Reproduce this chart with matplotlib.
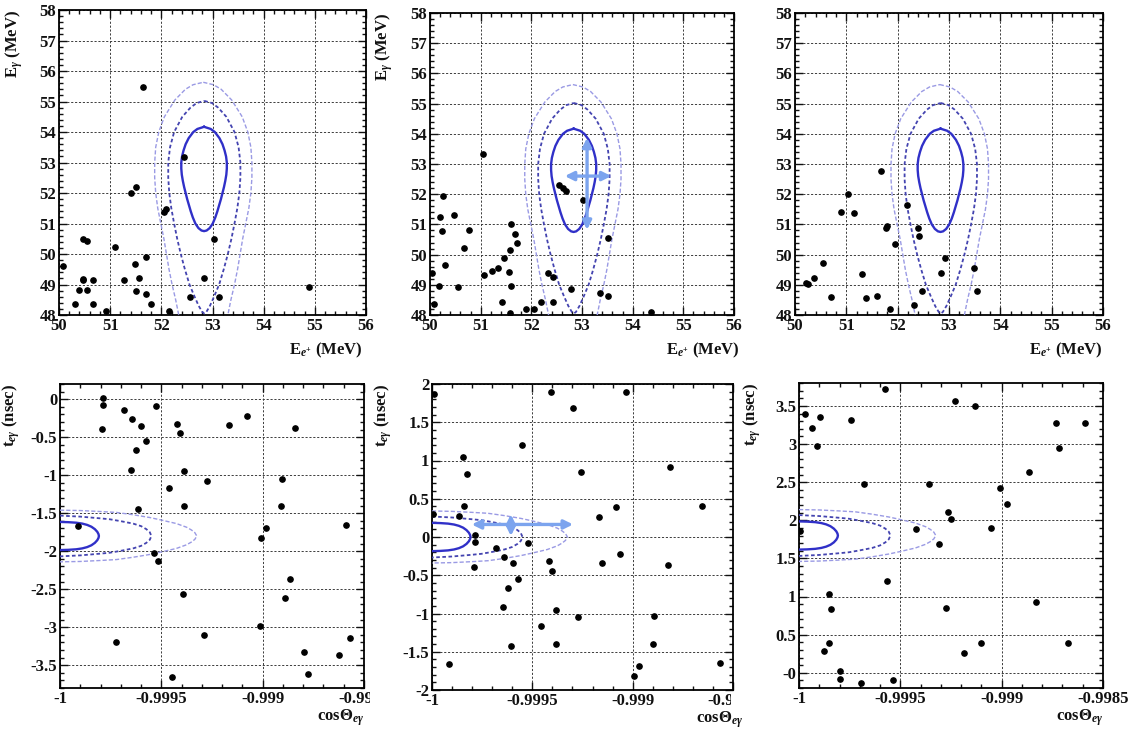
import matplotlib
matplotlib.use("Agg")
import matplotlib.pyplot as plt
from matplotlib.ticker import MultipleLocator
from matplotlib.transforms import Bbox, TransformedBbox, blended_transform_factory, offset_copy
import numpy as np

plt.rcParams.update({
    "font.family": ["Liberation Serif", "DejaVu Serif"],
    "font.weight": "bold",
    "mathtext.fontset": "custom",
    "mathtext.rm": "Liberation Serif:bold",
    "mathtext.it": "Liberation Serif:italic:bold",
    "mathtext.bf": "Liberation Serif:bold",
    "axes.unicode_minus": False,
})

# ---------------- event data: E_e vs E_gamma (MeV) ----------------
ee_left = [51.65, 52.45, 51.50, 51.40, 52.10, 52.06, 50.47, 50.55, 51.09, 53.02,
           50.08, 51.71, 51.48, 51.27, 51.57, 50.46, 50.47, 50.67, 52.83, 50.40,
           50.55, 51.51, 51.71, 50.31, 50.66, 51.80, 52.56, 53.13, 50.91, 52.15,
           54.88]
eg_left = [55.46, 53.17, 52.21, 52.01, 51.46, 51.37, 50.48, 50.44, 50.24, 50.49,
           49.61, 49.90, 49.66, 49.15, 49.22, 49.18, 49.14, 49.14, 49.20, 48.81,
           48.81, 48.78, 48.70, 48.36, 48.36, 48.35, 48.58, 48.58, 48.14, 48.13,
           48.93]

ee_mid = [51.05, 50.26, 50.20, 50.23, 50.47, 50.77, 50.68, 50.30, 50.03, 50.18,
          50.56, 50.07, 51.60, 51.68, 51.71, 51.58, 51.47, 51.35, 51.23, 51.07,
          51.56, 51.60, 51.43, 51.58, 51.89, 52.06, 52.20, 52.42, 52.33, 52.43,
          52.54, 52.63, 52.68, 53.02, 52.79, 53.52, 53.35, 53.52, 54.37]
eg_mid = [53.32, 51.93, 51.25, 50.79, 51.32, 50.80, 50.21, 49.64, 49.38, 48.97,
          48.94, 48.37, 51.02, 50.69, 50.38, 50.16, 49.88, 49.55, 49.47, 49.33,
          49.44, 48.97, 48.42, 48.05, 48.20, 48.20, 48.44, 48.44, 49.38, 49.25,
          52.32, 52.21, 52.12, 51.82, 48.85, 50.55, 48.72, 48.64, 48.09]

ee_right = [51.67, 51.04, 50.89, 51.15, 51.78, 51.80, 51.95, 52.19, 52.39, 52.41,
            50.54, 50.37, 50.21, 50.26, 50.71, 51.30, 51.39, 51.59, 51.85, 52.32,
            52.48, 52.85, 52.92, 53.48, 53.55]
eg_right = [52.78, 52.02, 51.41, 51.38, 50.88, 50.95, 50.34, 51.65, 50.87, 50.61,
            49.71, 49.22, 49.07, 49.03, 48.61, 49.35, 48.56, 48.64, 48.19, 48.33,
            48.80, 49.39, 49.88, 49.56, 48.81]

# ---------------- event data: cos(theta_egamma) vs t_egamma (nsec) ----------------
cos_left = [-0.999786, -0.999786, -0.999791, -0.999685, -0.999643, -0.999601, -0.999527,
            -0.999576, -0.999627, -0.999652, -0.999614, -0.999913, -0.999422, -0.999409,
            -0.999387, -0.999463, -0.999387, -0.999277, -0.999538, -0.999517, -0.999392,
            -0.999724, -0.999290, -0.999446, -0.999165, -0.999075, -0.998838, -0.998904,
            -0.998911, -0.998986, -0.999006, -0.998866, -0.998888, -0.999014, -0.998796,
            -0.998776, -0.998625, -0.998567, -0.998587]
t_left = [0.02, -0.07, -0.39, -0.14, -0.26, -0.35, -0.09,
          -0.55, -0.67, -0.93, -1.44, -1.67, -0.32, -0.45,
          -0.95, -1.17, -1.40, -1.07, -2.03, -2.13, -2.56,
          -3.19, -3.10, -3.66, -0.34, -0.22, -0.38, -1.05,
          -1.40, -1.70, -1.83, -2.36, -2.61, -2.98, -3.33,
          -3.62, -3.36, -3.14, -1.66]

cos_mid = [-0.999992, -0.999408, -0.999295, -0.999033, -0.999550, -0.999845, -0.999828,
           -0.999258, -0.998812, -0.999842, -0.999995, -0.999863, -0.999083, -0.999170,
           -0.998653, -0.999787, -0.999787, -0.999792, -0.999683, -0.999642, -0.999597,
           -0.999522, -0.999573, -0.999622, -0.999648, -0.999608, -0.999917, -0.999417,
           -0.999403, -0.999380, -0.999458, -0.999380, -0.999270, -0.999155, -0.999063,
           -0.998822, -0.998892, -0.998900, -0.998970, -0.998995, -0.998567]
t_mid = [1.87, 1.89, 1.69, 1.90, 1.20, 1.04, 0.83,
         0.85, 0.92, 0.40, 0.30, 0.28, 0.39, 0.26,
         0.40, 0.03, -0.07, -0.39, -0.14, -0.26, -0.34,
         -0.08, -0.55, -0.67, -0.92, -1.43, -1.66, -0.32,
         -0.44, -0.95, -1.16, -1.40, -1.05, -0.34, -0.22,
         -0.37, -1.03, -1.40, -1.69, -1.82, -1.65]

cos_right = [-0.999972, -0.999935, -0.999894, -0.999909, -0.999743, -0.999575, -0.999679,
             -0.999993, -0.999854, -0.999841, -0.999854, -0.999876, -0.999798, -0.999798,
             -0.999695, -0.999536, -0.999566, -0.999421, -0.999359, -0.999230, -0.999132,
             -0.999310, -0.999265, -0.999252, -0.999276, -0.999185, -0.999103, -0.999051,
             -0.999008, -0.998975, -0.998866, -0.998833, -0.998730, -0.998717, -0.998672,
             -0.998590]
t_right = [3.39, 3.21, 3.36, 2.97, 3.31, 3.72, 2.47,
           1.86, 1.03, 0.83, 0.39, 0.28, 0.02, -0.08,
           -0.14, -0.09, 1.20, 1.89, 2.48, 3.57, 3.50,
           1.69, 2.11, 2.02, 0.85, 0.26, 0.39, 1.90,
           2.42, 2.21, 2.63, 0.93, 3.27, 2.95, 0.39,
           3.28]

# ---------------- signal PDF contours in the energy plane ----------------
# each contour: E_gamma levels (top to bottom), half-width in E_e, and centre in E_e
c1_center = 52.835
c1_eg = [54.17, 54.10, 54.00, 53.80, 53.60, 53.40, 53.20, 53.00, 52.80, 52.60, 52.40,
         52.20, 52.00, 51.80, 51.60, 51.40, 51.20, 51.00, 50.85, 50.77, 50.75]
c1_hw = [0.0, 0.13, 0.21, 0.30, 0.36, 0.40, 0.43, 0.445, 0.445, 0.435, 0.415,
         0.39, 0.36, 0.33, 0.295, 0.26, 0.22, 0.17, 0.11, 0.05, 0.0]

c2_center = 52.84
c2_eg = [55.02, 54.95, 54.80, 54.50, 54.00, 53.50, 53.00, 52.50, 52.00, 51.50,
         51.00, 50.50, 50.00, 49.50, 49.00, 48.60, 48.30, 48.10, 48.05]
c2_hw = [0.0, 0.15, 0.27, 0.43, 0.59, 0.67, 0.705, 0.705, 0.685, 0.645,
         0.59, 0.53, 0.46, 0.38, 0.29, 0.19, 0.11, 0.04, 0.0]

c3_center = 52.82
c3_eg = [55.63, 55.55, 55.40, 55.05, 54.50, 54.00, 53.50, 53.00, 52.50, 52.00,
         51.50, 51.00, 50.50, 50.00, 49.50, 49.00, 48.50, 48.00, 47.50]
c3_hw = [0.0, 0.20, 0.35, 0.555, 0.76, 0.87, 0.93, 0.95, 0.95, 0.93,
         0.89, 0.83, 0.77, 0.72, 0.67, 0.61, 0.54, 0.48, 0.43]

# ---------------- signal PDF contours in the angle/time plane ----------------
# distance from cos = -1 and half-height in t around the timing peak
k1_dcos = [0.0, 0.00004, 0.00008, 0.00011, 0.000134, 0.000155, 0.000172, 0.000184,
           0.00019, 0.000192]
k1_hh = [0.185, 0.182, 0.175, 0.163, 0.146, 0.122, 0.09, 0.055, 0.025, 0.0]
k2_dcos = [0.0, 0.0001, 0.0002, 0.000246, 0.0003, 0.000361, 0.0004, 0.000426,
           0.000443, 0.000451]
k2_hh = [0.268, 0.255, 0.232, 0.22, 0.195, 0.163, 0.13, 0.09, 0.05, 0.0]
k3_dcos = [0.0, 0.0001, 0.0002, 0.000279, 0.00036, 0.000443, 0.0005, 0.000574,
           0.000625, 0.000648, 0.000665, 0.000675]
k3_hh = [0.34, 0.335, 0.322, 0.31, 0.28, 0.243, 0.21, 0.164, 0.115, 0.08, 0.045, 0.0]
t_peak = [-1.80, 0.0, 1.80]

# ---------------- resolution arrows ----------------
arrow_e_vert = [(53.10, 50.82), (53.10, 53.87)]
arrow_e_horz = [(52.66, 52.60), (53.58, 52.60)]
arrow_t_horz = [(-0.999802, 0.164), (-0.999297, 0.164)]
arrow_t_vert = [(-0.999607, 0.013), (-0.999607, 0.296)]

# ---------------- axes ranges / ticks ----------------
e_xlim = (50, 56)
e_ylim = (48, 58)
cos_ticks = [-1, -0.9995, -0.999, -0.9985]
cos_labels = ["-1", "-0.9995", "-0.999", "-0.9985"]
t_lims = [(-3.8, 0.2), (-2.0, 2.0), (-0.2, 3.8)]

W, H = 1137, 734
fig = plt.figure(figsize=(W / 100, H / 100), dpi=100)
fig.patch.set_facecolor("white")


def px_axes(x0, y0, x1, y1):
    return fig.add_axes([x0 / W, 1 - y1 / H, (x1 - x0) / W, (y1 - y0) / H])


C_IN = "#3030c8"
C_MID = "#4444b0"
C_OUT = "#9a9ae4"
C_ARR = "#7ca4ee"
TXT = "#111111"
TICK_FS = 12
GRID = dict(color="#3c3c3c", linestyle=(0, (2.2, 1.8)), linewidth=0.7)
all_axes = []


def style(ax, xminor, yminor):
    for s in ax.spines.values():
        s.set_linewidth(1.3)
    ax.xaxis.set_minor_locator(MultipleLocator(xminor))
    ax.yaxis.set_minor_locator(MultipleLocator(yminor))
    ax.tick_params(which="both", direction="in", top=True, right=True,
                   width=1.0, labelsize=TICK_FS, colors=TXT, pad=2.0)
    ax.tick_params(which="major", length=6)
    ax.tick_params(which="minor", length=3)
    ax.grid(True, which="major", **GRID)
    ax.set_axisbelow(True)
    all_axes.append(ax)


def loop_vertical(center, levels, hw):
    # closed outline from the right flank down and back up the left flank
    xs = [center + h for h in hw] + [center - h for h in hw[::-1]]
    ys = list(levels) + list(levels[::-1])
    return xs, ys


def loop_horizontal(peak, dcos, hh):
    xs = [-1 + d for d in dcos] + [-1 + d for d in dcos[::-1]]
    ys = [peak + h for h in hh] + [peak - h for h in hh[::-1]]
    return xs, ys


def arrow(ax, pts):
    (x0, y0), (x1, y1) = pts
    ax.annotate("", xy=(x1, y1), xytext=(x0, y0),
                arrowprops=dict(arrowstyle="<|-|>", color=C_ARR, lw=2.4,
                                mutation_scale=13, shrinkA=0, shrinkB=0),
                zorder=6)


LINESTYLES = [(C_OUT, 1.0, (0, (3.0, 1.5))), (C_MID, 1.3, (0, (2.0, 1.4))), (C_IN, 1.7, "-")]

# ---------------- top row: energies ----------------
top_boxes = [(59, 10, 366, 315), (430, 13, 734, 315), (795, 13, 1103, 315)]
top_data = [(ee_left, eg_left), (ee_mid, eg_mid), (ee_right, eg_right)]
top_ylab = [-0.11, -0.115, None]
top_xlab = [0.99, 1.02, 1.0]
e_contours = [(c3_center, c3_eg, c3_hw), (c2_center, c2_eg, c2_hw), (c1_center, c1_eg, c1_hw)]

for i, (box, (xs, ys)) in enumerate(zip(top_boxes, top_data)):
    ax = px_axes(*box)
    ax.set_xlim(*e_xlim)
    ax.set_ylim(*e_ylim)
    ax.set_xticks(np.arange(50, 57, 1))
    ax.set_yticks(np.arange(48, 59, 1))
    style(ax, 0.2, 0.2)
    for (cen, lev, hw), (col, lw, ls) in zip(e_contours, LINESTYLES):
        cx, cy = loop_vertical(cen, lev, hw)
        if lev[-1] < e_ylim[0]:
            # outer contour leaves the frame at the bottom: drop the closing segment
            ax.plot(cx, cy, color=col, lw=lw, ls=ls, zorder=3)
        else:
            ax.plot(cx + cx[:1], cy + cy[:1], color=col, lw=lw, ls=ls, zorder=3)
    ax.plot(xs, ys, "o", ms=3.8, color="black", zorder=5)
    if i == 1:
        arrow(ax, arrow_e_vert)
        arrow(ax, arrow_e_horz)
    ax.set_xlabel(r"E$_{e^{+}}$ (MeV)", fontsize=12, fontweight="bold",
                  ha="right", va="top", color=TXT)
    ax.xaxis.set_label_coords(top_xlab[i], -0.085)
    if top_ylab[i] is not None:
        ax.set_ylabel(r"E$_{\gamma}$ (MeV)", fontsize=12, fontweight="bold",
                      ha="right", va="bottom", color=TXT)
        ax.yaxis.set_label_coords(top_ylab[i], 1.0)

# ---------------- bottom row: angle vs timing ----------------
bot_boxes = [(60, 384, 364, 688), (432, 384, 733, 690), (799, 383, 1103, 688)]
bot_data = [(cos_left, t_left), (cos_mid, t_mid), (cos_right, t_right)]
bot_ylab = [-0.125, -0.125, -0.12]
bot_xlab = [1.0, 1.035, 1.0]
clip_right = [370, 731, None]
t_contours = [(k3_dcos, k3_hh), (k2_dcos, k2_hh), (k1_dcos, k1_hh)]

for i, (box, (xs, ys)) in enumerate(zip(bot_boxes, bot_data)):
    ax = px_axes(*box)
    ax.set_xlim(cos_ticks[0], cos_ticks[-1])
    ax.set_ylim(*t_lims[i])
    ax.set_xticks(cos_ticks)
    labels = list(cos_labels)
    if clip_right[i] is not None:
        labels[-1] = ""
    ax.set_xticklabels(labels)
    lo, hi = t_lims[i]
    ax.set_yticks(np.arange(np.ceil(lo * 2) / 2, hi + 1e-9, 0.5))
    ax.yaxis.set_major_formatter(plt.FuncFormatter(lambda v, p: f"{v:g}"))
    style(ax, 0.0001, 0.1)
    for (dc, hh), (col, lw, ls) in zip(t_contours, LINESTYLES):
        cx, cy = loop_horizontal(t_peak[i], dc, hh)
        ax.plot(cx, cy, color=col, lw=lw, ls=ls, zorder=3)
    ax.plot(xs, ys, "o", ms=3.8, color="black", zorder=5)
    if i == 1:
        arrow(ax, arrow_t_horz)
        arrow(ax, arrow_t_vert)
    if clip_right[i] is not None:
        # last tick label is cut at the panel border
        tr = offset_copy(blended_transform_factory(ax.transData, ax.transAxes),
                         fig=fig, y=-2.0, units="points")
        txt = fig.text(cos_ticks[-1], 0, cos_labels[-1], transform=tr,
                       ha="center", va="top", fontsize=TICK_FS, fontweight="bold",
                       color=TXT)
        txt.set_clip_box(TransformedBbox(Bbox.from_extents(0, 0, clip_right[i] / W, 1),
                                         fig.transFigure))
        txt.set_clip_on(True)
    ax.set_xlabel(r"cos$\Theta_{e\gamma}$", fontsize=12, fontweight="bold",
                  ha="right", va="top", color=TXT)
    ax.xaxis.set_label_coords(bot_xlab[i], -0.065)
    ax.set_ylabel(r"t$_{e\gamma}$ (nsec)", fontsize=12, fontweight="bold",
                  ha="right", va="bottom", color=TXT)
    ax.yaxis.set_label_coords(bot_ylab[i], 1.0)

fig.canvas.draw()
for ax in all_axes:
    for lab in ax.get_xticklabels() + ax.get_yticklabels():
        lab.set_fontweight("bold")

fig.savefig("out.png", dpi=100, facecolor="white")
